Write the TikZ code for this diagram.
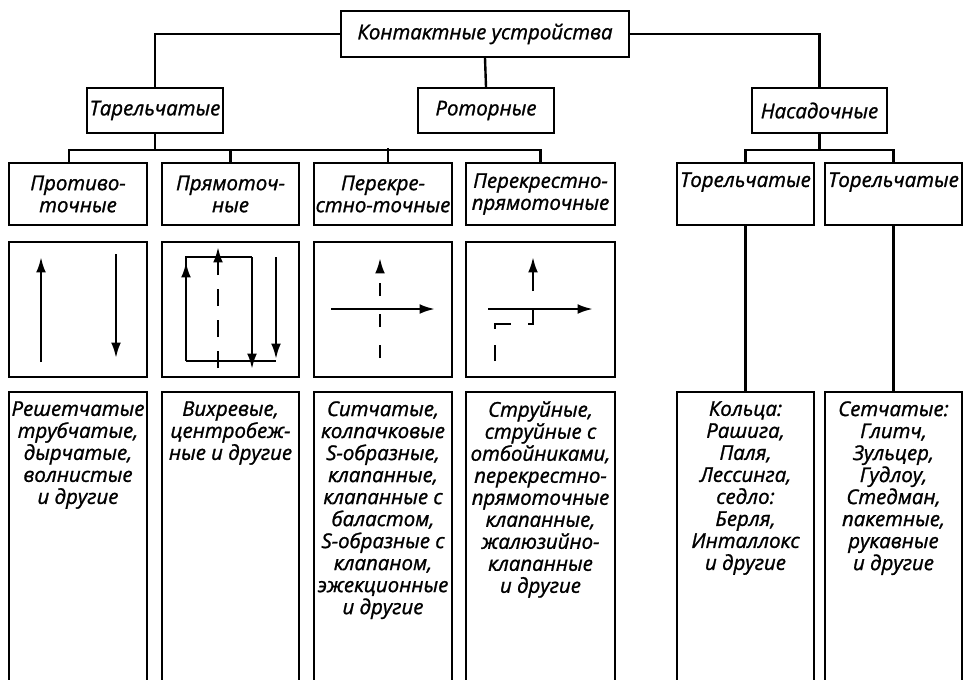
\documentclass[tikz,border=0pt]{standalone}
\usepackage{fontspec}
\setmainfont{Open Sans}[ItalicFeatures={FakeBold=1.2}]
\usetikzlibrary{positioning,arrows.meta}

\newcommand{\pxu}{0.025cm}   % one pixel of the drawing
\newcommand{\lw}{1.7pt}
\newcommand{\boxfont}{\itshape\fontsize{14.5}{15.65}\selectfont}

\tikzset{
  box/.style={draw, line width=\lw, inner sep=0pt, align=center, font=\boxfont},
  boxsize/.style 2 args={minimum width=#1*\pxu, minimum height=#2*\pxu},
  txt/.style={inner sep=0pt, align=center, font=\boxfont},
  flow/.style={line width=\lw, -{Latex[length=11pt,width=7pt]}},
  dflow/.style={flow, dash pattern=on 9pt off 13pt},
}

\begin{document}
\begin{tikzpicture}[x=\pxu, y=-\pxu]
  \useasboundingbox (0,0) rectangle (964,679);

  % levels 1 and 2
  \node[box, boxsize={288}{46}] (top) at (485,34) {Контактные устройства};
  \node[box, boxsize={136}{45}] (tar) at (155,110.5) {Тарельчатые};
  \node[box, boxsize={136}{45}] (rot) at (486,110.5) {Роторные};
  \node[box, boxsize={135}{45}] (nas) at (819.5,110.5) {Насадочные};

  \draw[line width=\lw] (top.west) -| (tar.north);
  \draw[line width=\lw] (top.east) -| (nas.north);
  \draw[line width=\lw] (top.south) -- (rot.north);

  % level 3
  \node[box, boxsize={138}{62}] (p1) at (78,194) {Противо-\\точные};
  \node[box, boxsize={137}{62}] (p2) at (230.5,194) {Прямоточ-\\ные};
  \node[box, boxsize={138}{62}] (p3) at (383,194) {Перекре-\\стно-точные};
  \node[box, boxsize={149}{62}] (p4) at (540.5,194) {Перекрестно-\\прямоточные};
  \node[box, boxsize={137}{62}] (t1) at (745.5,194) {Торельчатые\\ \strut};
  \node[box, boxsize={137}{62}] (t2) at (893.5,194) {Торельчатые\\ \strut};

  \draw[line width=\lw] (tar.south) -- ++(0,16) coordinate (tb);
  \draw[line width=\lw] ([xshift=-9*\pxu]p1.north) |- (tb) -| (p4.north);
  \draw[line width=\lw] (p2.north) -- (p2.north |- tb);
  \draw[line width=\lw] ([xshift=5*\pxu]p3.north) -- ++(0,-14);
  \draw[line width=\lw] (nas.south) -- ++(0,16) coordinate (nb);
  \draw[line width=\lw] (t1.north) |- (nb) -| (t2.north);

  % flow schemes
  \node[box, boxsize={138}{135}] (d1) at (78,309.5) {};
  \node[box, boxsize={137}{135}] (d2) at (230.5,309.5) {};
  \node[box, boxsize={138}{135}] (d3) at (383,309.5) {};
  \node[box, boxsize={149}{135}] (d4) at (540.5,309.5) {};

  \draw[flow] (41,362) -- (41,257);
  \draw[flow] (116,254) -- (116,358);

  \draw[line width=\lw] (186,361) -- (276,361);
  \draw[line width=\lw, line join=miter] (186,361) -- (186,257) -- (252,257);
  \draw[flow] (186,300) -- (186,262);
  \draw[flow] (252,257) -- (252,369);
  \draw[flow] (276,257) -- (276,359);
  \draw[flow, dash pattern=on 12pt off 10pt] (218,368) -- (218,247);

  \draw[dflow] (380,358) -- (380,258);
  \draw[flow] (331,309) -- (435,309);

  \draw[flow, dash pattern=on 11.4pt off 11.4pt on 14.9pt off 12.1pt on 14.2pt off 12.8pt on 30pt off 30pt]
    (495,361) -- (495,324) -- (533,324) -- (533,257);
  \draw[flow] (488,309) -- (593,309);

  % level 4, boxes run on below the page
  \node[box, boxsize={138}{320}, anchor=north] (k1) at (78,391) {};
  \node[box, boxsize={137}{320}, anchor=north] (k2) at (230.5,391) {};
  \node[box, boxsize={138}{320}, anchor=north] (k3) at (383,391) {};
  \node[box, boxsize={149}{320}, anchor=north] (k4) at (540.5,391) {};
  \node[box, boxsize={137}{320}, anchor=north] (k5) at (745.5,391) {};
  \node[box, boxsize={137}{320}, anchor=north] (k6) at (893.5,391) {};

  \draw[line width=\lw] (t1.south) -- (k1.north -| t1.south);
  \draw[line width=\lw] (t2.south) -- (k6.north -| t2.south);

  \node[txt, below=0.25cm of k1.north] {Решетчатые\\трубчатые,\\дырчатые,\\волнистые\\и другие};
  \node[txt, below=0.25cm of k2.north] {Вихревые,\\центробеж-\\ные и другие};
  \node[txt, below=0.25cm of k3.north] {Ситчатые,\\колпачковые\\S-образные,\\клапанные,\\клапанные с\\баластом,\\S-образные с\\клапаном,\\эжекционные\\и другие};
  \node[txt, below=0.25cm of k4.north] {Струйные,\\струйные с\\отбойниками,\\перекрестно-\\прямоточные\\клапанные,\\жалюзийно-\\клапанные\\и другие};
  \node[txt, below=0.25cm of k5.north] {Кольца:\\Рашига,\\Паля,\\Лессинга,\\седло:\\Берля,\\Инталлокс\\и другие};
  \node[txt, below=0.25cm of k6.north] {Сетчатые:\\Глитч,\\Зульцер,\\Гудлоу,\\Стедман,\\пакетные,\\рукавные\\и другие};
\end{tikzpicture}
\end{document}
